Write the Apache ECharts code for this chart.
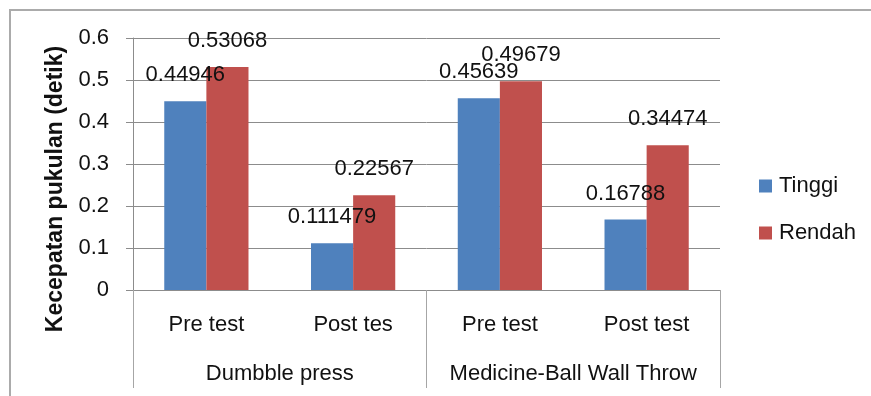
<!DOCTYPE html>
<html>
<head>
<meta charset="utf-8">
<script src="https://cdn.jsdelivr.net/npm/echarts@6/dist/echarts.min.js"></script>
<style>
html,body{margin:0;padding:0;background:#fff;}
#c{width:871px;height:396px;}
</style>
</head>
<body>
<div id="c"></div>
<script>
// Data
const categories = ["Pre test", "Post tes", "Pre test", "Post test"];
const groups = ["Dumbble press", "Medicine-Ball Wall Throw"];
const seriesNames = ["Tinggi", "Rendah"];
const tinggi = [0.44946, 0.111479, 0.45639, 0.16788];
const rendah = [0.53068, 0.22567, 0.49679, 0.34474];
const yTitle = "Kecepatan pukulan (detik)";

const FONT = '"Liberation Sans", Arial, sans-serif';
const TXT = '#111';
const chart = echarts.init(document.getElementById('c'), null, {renderer: 'canvas'});

const labelCfg = {
  show: true, position: 'top', distance: 15,
  fontSize: 22, lineHeight: 22, fontFamily: FONT, color: TXT
};

chart.setOption({
  animation: false,
  backgroundColor: '#fff',
  grid: {left: 133, right: 151, top: 38, bottom: 106, containLabel: false},
  legend: {
    orient: 'vertical', left: 759, top: 175, padding: 0,
    itemWidth: 13, itemHeight: 13, itemGap: 25, icon: 'rect',
    textStyle: {fontSize: 22, lineHeight: 22, fontFamily: FONT, color: TXT, padding: [0, 0, 0, 2]},
    data: seriesNames
  },
  xAxis: [
    {
      type: 'category', data: categories, position: 'bottom',
      axisLine: {show: true, lineStyle: {color: '#8c8c8c', width: 1}},
      axisTick: {show: false},
      splitLine: {show: false},
      axisLabel: {fontSize: 22, lineHeight: 22, fontFamily: FONT, color: TXT, margin: 24, interval: 0}
    },
    {
      type: 'category', data: groups, position: 'bottom',
      axisLine: {show: false},
      axisTick: {show: true, length: 98, interval: 0, lineStyle: {color: '#a6a6a6', width: 1}},
      splitLine: {show: false},
      axisLabel: {fontSize: 22, lineHeight: 22, fontFamily: FONT, color: TXT, margin: 73, interval: 0}
    }
  ],
  yAxis: {
    type: 'value', min: 0, max: 0.6, interval: 0.1,
    axisLine: {show: true, lineStyle: {color: '#8c8c8c', width: 1}},
    axisTick: {show: true, length: 7, lineStyle: {color: '#8c8c8c'}},
    splitLine: {show: true, lineStyle: {color: '#8c8c8c', width: 1}},
    axisLabel: {
      fontSize: 22, fontFamily: FONT, color: TXT, margin: 24,
      formatter: v => String(Math.round(v * 10) / 10)
    }
  },
  series: [
    {
      name: seriesNames[0], type: 'bar', data: tinggi, xAxisIndex: 0,
      barGap: '0%', barCategoryGap: '42.6%',
      itemStyle: {color: '#4F81BD'}, label: labelCfg
    },
    {
      name: seriesNames[1], type: 'bar', data: rendah, xAxisIndex: 0,
      barGap: '0%', barCategoryGap: '42.6%',
      itemStyle: {color: '#C0504D'}, label: labelCfg
    }
  ],
  graphic: [
    {
      type: 'rect', z: -10, silent: true,
      shape: {x: 10, y: 10, width: 900, height: 430},
      style: {fill: 'none', stroke: '#ababab', lineWidth: 2}
    },
    {
      type: 'text', x: 56, y: 189, rotation: Math.PI / 2,
      style: {
        text: yTitle, fontSize: 23, fontWeight: 'bold', fontFamily: FONT,
        fill: TXT, textAlign: 'center', textVerticalAlign: 'middle'
      }
    }
  ]
});
</script>
</body>
</html>
